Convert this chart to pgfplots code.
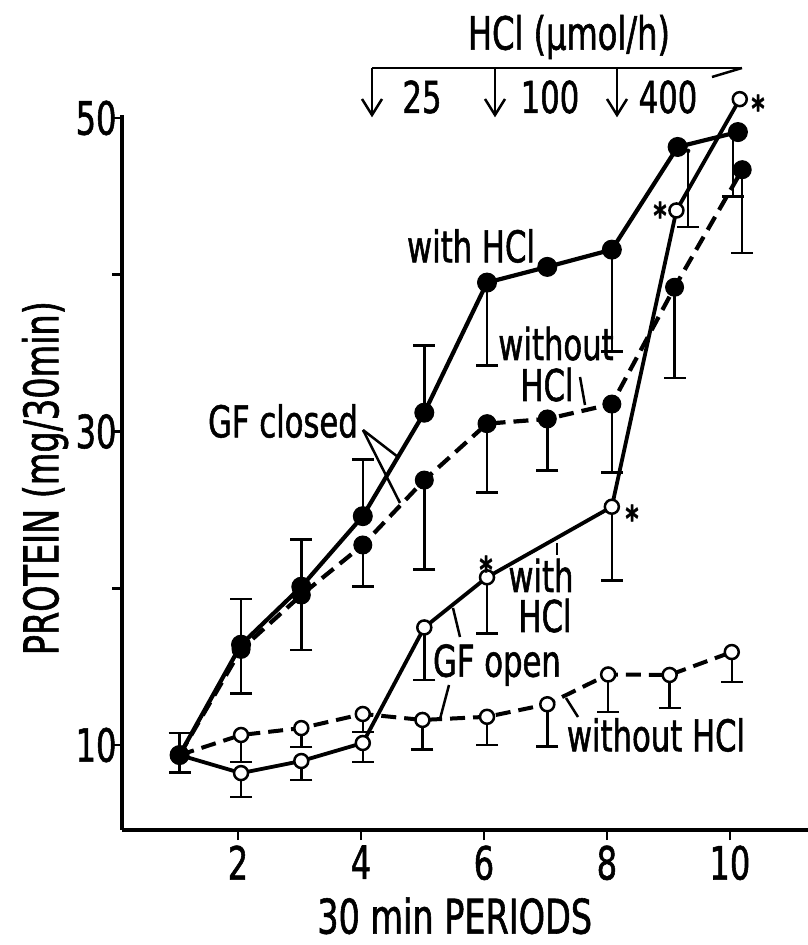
\documentclass[border=0pt]{standalone}
\usepackage{pgfplots}
\pgfplotsset{compat=1.18}
\usepackage{pgfplotstable}
\usepackage{fontspec}
\setmainfont{DejaVu Sans}[FakeStretch=0.7, FakeBold=1.2]

\pgfplotstableread{
x y
1.05 9.36
2.05 16.4
3.03 20.1
4.03 24.6
5.03 31.2
6.05 39.5
7.03 40.5
8.08 41.6
9.15 48.15
10.13 49.1
}\closedwith
\pgfplotstableread{
x y e
1.05 9.36 1.4
2.05 16.4 2.9
3.03 20.1 3.0
4.03 24.6 3.6
5.03 31.2 4.3
}\closedwithup
\pgfplotstableread{
x y e
1.05 9.36 1.1
6.05 39.5 5.3
8.08 41.6 6.5
9.32 47.9 4.85
10.05 49.1 4.1
}\closedwithdown
\pgfplotstableread{
x y
1.05 9.36
2.05 16.1
3.03 19.57
4.03 22.76
5.03 26.9
6.05 30.5
7.03 30.8
8.08 31.75
9.1 39.2
10.2 46.7
}\closedwithout
\pgfplotstableread{
x y e
2.05 16.1 2.8
3.03 19.57 3.5
4.03 22.76 2.66
5.03 26.9 5.7
6.05 30.5 4.4
7.03 30.8 3.3
8.08 31.75 4.35
9.1 39.2 5.8
10.2 46.7 5.3
}\closedwithoutdown
\pgfplotstableread{
x y
1.05 9.36
2.05 8.21
3.03 8.98
4.03 10.13
5.03 17.5
6.05 20.7
8.08 25.2
9.13 44.1
10.16 51.2
}\openwith
\pgfplotstableread{
x y e
2.05 8.21 1.53
3.03 8.98 1.2
4.03 10.13 1.2
5.03 17.5 3.35
6.05 20.7 3.6
8.08 25.2 4.7
}\openwithdown
\pgfplotstableread{
x y
1.05 9.36
2.05 10.64
3.03 11.08
4.03 11.98
5.0 11.6
6.05 11.8
7.03 12.6
8.02 14.5
9.02 14.47
10.03 15.93
}\openwithout
\pgfplotstableread{
x y e
2.05 10.64 1.72
3.03 11.08 1.2
4.03 11.98 1.15
5.0 11.6 1.9
6.05 11.8 1.8
7.03 12.6 2.7
8.02 14.5 2.4
9.02 14.47 2.1
10.03 15.93 1.9
}\openwithoutdown

\begin{document}
\begin{tikzpicture}[x=1bp,y=1bp]
\useasboundingbox (0,0) rectangle (808,945);
\begin{axis}[
  at={(122bp,115bp)}, anchor=south west,
  scale only axis, width=686bp, height=715bp,
  xmin=0.114, xmax=11.27, ymin=4.58, ymax=50.19,
  axis lines*=left,
  axis line style={line width=3.2bp},
  clip=false,
  xtick={2,4,6,8,10}, ytick={10,30,50}, minor ytick={20,40},
  tick align=outside,
  major tick length=10bp, minor tick length=10bp,
  every tick/.style={black, line width=2.5bp},
  /pgf/number format/assume math mode=true,
  tick label style={font=\fontsize{46}{46}\selectfont},
  xticklabel style={yshift=-2bp},
  yticklabel style={xshift=8bp},
  xlabel={30 min PERIODS},
  xlabel style={font=\fontsize{48}{48}\selectfont, at={(rel axis cs:0.485,-0.12)}, anchor=center},
  ylabel={PROTEIN (mg/30min)},
  ylabel style={font=\fontsize{48}{48}\selectfont, at={(rel axis cs:-0.112,0.492)}, anchor=center, rotate=0},
  errbar/.style={only marks, mark=none, forget plot,
    error bars/.cd, y dir=#1, y explicit,
    error bar style={draw=black, solid, line width=2.5bp},
    error mark=-,
    error mark options={rotate=90, draw=black, solid, mark size=11bp, line width=2.5bp}},
]
% error bars first
\addplot[errbar=plus] table[x=x, y=y, y error=e] {\closedwithup};
\addplot[errbar=minus] table[x=x, y=y, y error=e] {\closedwithdown};
\addplot[errbar=minus] table[x=x, y=y, y error=e] {\closedwithoutdown};
\addplot[errbar=minus] table[x=x, y=y, y error=e] {\openwithdown};
\addplot[errbar=minus] table[x=x, y=y, y error=e] {\openwithoutdown};
% lines
\addplot[black, line width=4bp, dash pattern=on 15bp off 8bp, mark=*, mark size=7bp,
  mark options={solid, fill=white, line width=2.5bp}] table[x=x, y=y] {\openwithout};
\addplot[black, line width=3.8bp, mark=*, mark size=7bp,
  mark options={solid, fill=white, line width=2.5bp}] table[x=x, y=y] {\openwith};
\addplot[black, line width=4.2bp, dash pattern=on 15bp off 8bp, mark=*, mark size=9bp,
  mark options={solid, fill=black, line width=1bp}] table[x=x, y=y] {\closedwithout};
\addplot[black, line width=4.2bp, mark=*, mark size=9.5bp,
  mark options={solid, fill=black, line width=1bp}] table[x=x, y=y] {\closedwith};
\end{axis}
% annotations (picture coordinates, 1bp = 1px of the reference, y measured from bottom)
\begin{scope}[font=\fontsize{44}{44}\selectfont, line width=2.5bp]
\node[font=\fontsize{46}{46}\selectfont] at (569,908) {HCl (µmol/h)};
\draw (372,877) -- (742,877);
\draw (742,877) -- (712,868);
\foreach \xx in {372,495,617}{
  \draw (\xx,877) -- (\xx,830);
  \draw (\xx-10,846) -- (\xx,830) -- (\xx+10,846);
}
\node at (422,848) {25};
\node at (550,848) {100};
\node at (668,848) {400};
\node at (471,699) {with HCl};
\node[anchor=base, inner sep=0pt] at (556,585) {without};
\node[anchor=base, inner sep=0pt] at (547,544) {HCl};
\draw (580,568) -- (585,540);
\node at (283,524) {GF closed};
\draw (363,515) -- (398,488);
\draw (363,515) -- (400,442);
\node[anchor=base, inner sep=0pt] at (541,353) {with};
\node[anchor=base, inner sep=0pt] at (545,313) {HCl};
\draw (557,402) -- (557,390);
\node at (497,280) {GF open};
\draw (460,308) -- (453,337);
\draw (449,260) -- (440,226);
\node at (656,210) {without HCl};
\draw (578,228) -- (566,247);
\end{scope}
\begin{scope}[font=\fontsize{36}{36}\bfseries\selectfont]
\node[yshift=-8bp] at (486,384) {*};
\node[yshift=-8bp] at (632,435) {*};
\node[yshift=-8bp] at (660,738) {*};
\node[yshift=-8bp] at (758,845) {*};
\end{scope}
\end{tikzpicture}
\end{document}
